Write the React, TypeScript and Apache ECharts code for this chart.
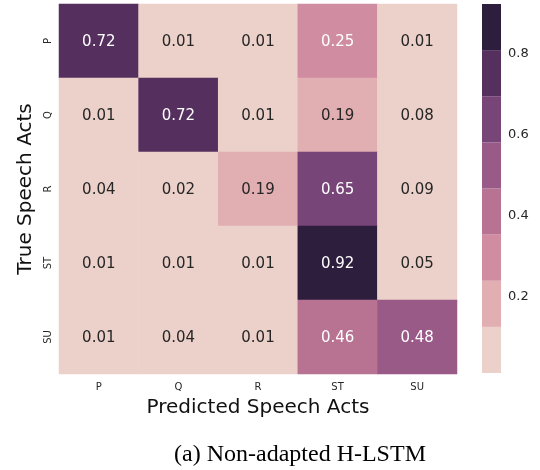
import React, { useEffect, useRef } from "react";
import * as echarts from "echarts";

const xCats = ["P", "Q", "R", "ST", "SU"];
const yCats = ["P", "Q", "R", "ST", "SU"];
const matrix = [
  [0.72, 0.01, 0.01, 0.25, 0.01],
  [0.01, 0.72, 0.01, 0.19, 0.08],
  [0.04, 0.02, 0.19, 0.65, 0.09],
  [0.01, 0.01, 0.01, 0.92, 0.05],
  [0.01, 0.04, 0.01, 0.46, 0.48],
];
const palette = ["#ebd1ca", "#e1aeb1", "#d08ca1", "#b87292", "#9a5a88", "#784579", "#552f5e", "#2e1e3e"];
const vMin = 0.01;
const vMax = 0.92;
const cbTicks = [0.2, 0.4, 0.6, 0.8];
const xTitle = "Predicted Speech Acts";
const yTitle = "True Speech Acts";
const caption = "(a) Non-adapted H-LSTM";

const FONT = "DejaVu Sans";
const TXT = "#262626";

export default function App() {
  const ref = useRef<HTMLDivElement>(null);
  useEffect(() => {
    if (!ref.current) return;
    const chart = echarts.init(ref.current, null, { renderer: "svg" });
    const step = (vMax - vMin) / palette.length;
    const pieces = palette.map((c, i) => ({
      gte: i === 0 ? -1 : vMin + i * step,
      lt: i === palette.length - 1 ? 10 : vMin + (i + 1) * step,
      color: c,
    }));
    const binOf = (v: number) => Math.min(palette.length - 1, Math.max(0, Math.floor((v - vMin) / step)));
    const data: any[] = [];
    matrix.forEach((row, yi) =>
      row.forEach((v, xi) => {
        data.push({
          value: [xi, yi, v],
          label: { color: binOf(v) >= 2 ? "#ffffff" : TXT },
        });
      })
    );
    const cbSeries = palette.map((c, i) => ({
      type: "bar",
      xAxisIndex: 1,
      yAxisIndex: 1,
      stack: "cb",
      barWidth: "100%",
      silent: true,
      itemStyle: { color: c },
      data: [i === 0 ? vMin + step : step],
    }));
    chart.setOption({
      animation: false,
      textStyle: { fontFamily: FONT },
      grid: [
        { left: 59, top: 4, width: 398, height: 370 },
        { left: 482, top: 4, width: 19, height: 369 },
      ],
      xAxis: [
        {
          type: "category",
          data: xCats,
          gridIndex: 0,
          axisLine: { show: false },
          axisTick: { length: 3.5, alignWithLabel: true, lineStyle: { color: "#444" } },
          axisLabel: { fontSize: 10, color: TXT, margin: 7, fontFamily: FONT },
          splitLine: { show: false },
          name: xTitle,
          nameLocation: "middle",
          nameGap: 21,
          nameTextStyle: { fontSize: 20, color: "#111", fontFamily: FONT },
        },
        {
          type: "category",
          data: ["cb"],
          gridIndex: 1,
          show: false,
        },
      ],
      yAxis: [
        {
          type: "category",
          data: yCats,
          inverse: true,
          gridIndex: 0,
          axisLine: { show: false },
          axisTick: { length: 3.5, alignWithLabel: true, lineStyle: { color: "#444" } },
          axisLabel: { fontSize: 10, color: TXT, margin: 7, rotate: 90, fontFamily: FONT },
          splitLine: { show: false },
          name: yTitle,
          nameLocation: "middle",
          nameRotate: 90,
          nameGap: 24,
          nameTextStyle: { fontSize: 20, color: "#111", fontFamily: FONT },
        },
        {
          type: "value",
          gridIndex: 1,
          position: "right",
          min: vMin,
          max: vMax,
          axisLine: { show: false },
          axisTick: { show: false },
          splitLine: { show: false },
          axisLabel: {
            customValues: cbTicks,
            fontSize: 13,
            color: TXT,
            margin: 7,
            fontFamily: FONT,
            formatter: (v: number) => String(Math.round(v * 10) / 10),
          },
        },
      ],
      visualMap: {
        type: "piecewise",
        show: false,
        seriesIndex: 0,
        dimension: 2,
        pieces,
      },
      series: [
        {
          type: "heatmap",
          xAxisIndex: 0,
          yAxisIndex: 0,
          data,
          itemStyle: { borderWidth: 0 },
          label: {
            show: true,
            fontSize: 15,
            fontFamily: FONT,
            formatter: (p: any) => p.value[2].toFixed(2),
          },
          emphasis: { disabled: true },
        },
        ...cbSeries,
      ],
      graphic: [
        {
          type: "text",
          x: 300,
          y: 453,
          style: {
            text: caption,
            fontSize: 24,
            fontFamily: "Liberation Serif",
            fill: "#000",
            textAlign: "center",
            textVerticalAlign: "middle",
          },
        },
      ],
    });
    return () => chart.dispose();
  }, []);
  return <div ref={ref} style={{ position: "fixed", left: 0, top: 0, width: 540, height: 470 }} />;
}
